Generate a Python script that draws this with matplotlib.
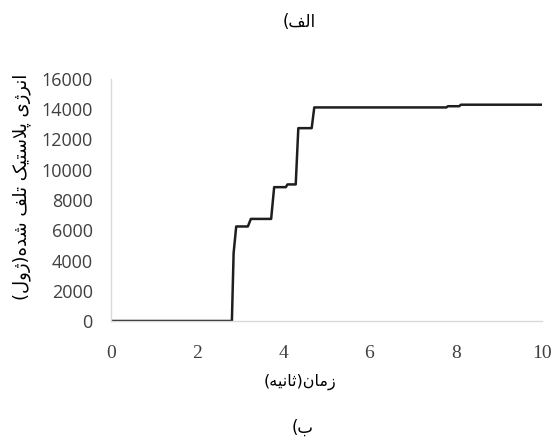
import matplotlib
matplotlib.use("Agg")
import matplotlib.pyplot as plt

# ---- data ----
time_s = [0, 2.81, 2.85, 2.91, 3.18, 3.25, 3.72, 3.79, 4.06, 4.10, 4.29, 4.35,
          4.66, 4.72, 7.78, 7.82, 8.08, 8.12, 10]
energy_j = [0, 0, 4500, 6250, 6250, 6750, 6750, 8850, 8850, 9030, 9030, 12750,
            12750, 14120, 14120, 14200, 14200, 14300, 14300]
x_ticks = [0, 2, 4, 6, 8, 10]
y_ticks = [0, 2000, 4000, 6000, 8000, 10000, 12000, 14000, 16000]

title_top = "الف)"
title_bottom = "ب)"
x_label = "زمان(ثانیه)"
y_label = "انرژی پلاستیک تلف شده(ژول)"

# ---- minimal Persian shaping (presentation forms + visual order) ----
FORMS = {
    'ا': ('\uFE8D', '\uFE8E', None, None),
    'ز': ('\uFEAF', '\uFEB0', None, None),
    'ر': ('\uFEAD', '\uFEAE', None, None),
    'ژ': ('\uFB8A', '\uFB8B', None, None),
    'د': ('\uFEA9', '\uFEAA', None, None),
    'و': ('\uFEED', '\uFEEE', None, None),
    'ل': ('\uFEDD', '\uFEDE', '\uFEDF', '\uFEE0'),
    'ف': ('\uFED1', '\uFED2', '\uFED3', '\uFED4'),
    'ب': ('\uFE8F', '\uFE90', '\uFE91', '\uFE92'),
    'م': ('\uFEE1', '\uFEE2', '\uFEE3', '\uFEE4'),
    'ن': ('\uFEE5', '\uFEE6', '\uFEE7', '\uFEE8'),
    'ث': ('\uFE99', '\uFE9A', '\uFE9B', '\uFE9C'),
    'ی': ('\uFBFC', '\uFBFD', '\uFBFE', '\uFBFF'),
    'ه': ('\uFEE9', '\uFEEA', '\uFEEB', '\uFEEC'),
    'پ': ('\uFB56', '\uFB57', '\uFB58', '\uFB59'),
    'س': ('\uFEB1', '\uFEB2', '\uFEB3', '\uFEB4'),
    'ت': ('\uFE95', '\uFE96', '\uFE97', '\uFE98'),
    'ک': ('\uFB8E', '\uFB8F', '\uFB90', '\uFB91'),
    'ش': ('\uFEB5', '\uFEB6', '\uFEB7', '\uFEB8'),
}


def shape(s):
    items = []
    i = 0
    while i < len(s):
        if s[i] == 'ل' and i + 1 < len(s) and s[i + 1] == 'ا':
            items.append('LA')
            i += 2
        else:
            items.append(s[i])
            i += 1

    def joins_next(c):
        return c in FORMS and FORMS[c][2] is not None

    def joins_prev(c):
        return c in FORMS or c == 'LA'

    res = []
    for k, c in enumerate(items):
        prev = items[k - 1] if k > 0 else None
        nxt = items[k + 1] if k + 1 < len(items) else None
        p = prev is not None and joins_next(prev) and joins_prev(c)
        q = nxt is not None and joins_next(c) and joins_prev(nxt)
        if c == 'LA':
            res.append('\uFEFC' if p else '\uFEFB')
        elif c in FORMS:
            iso, fin, ini, med = FORMS[c]
            if p and q:
                res.append(med)
            elif p:
                res.append(fin)
            elif q:
                res.append(ini)
            else:
                res.append(iso)
        else:
            res.append(c)
    mirror = {'(': ')', ')': '('}
    return ''.join(mirror.get(ch, ch) for ch in reversed(res))


fa_font = ['DejaVu Sans']

fig = plt.figure(figsize=(5.53, 4.41), dpi=100)
W, H = 553, 441
x0, x1, ytop, ybot = 110.7, 542.0, 79.0, 321.0
ax = fig.add_axes([x0 / W, 1 - ybot / H, (x1 - x0) / W, (ybot - ytop) / H])

ax.plot(time_s, energy_j, color='#1e1e1e', lw=1.8, solid_joinstyle='round')

ax.set_xlim(0, 10)
ax.set_ylim(0, 16000)
ax.set_xticks(x_ticks)
ax.set_yticks(y_ticks)
ax.set_xticklabels([str(v) for v in x_ticks], fontfamily='Liberation Serif',
                   fontsize=14, color='#404040')
ax.set_yticklabels([str(v) for v in y_ticks], fontfamily='Open Sans',
                   fontsize=13, color='#404040')
ax.tick_params(axis='both', length=0)
ax.tick_params(axis='x', pad=17)
ax.tick_params(axis='y', pad=13)
for side in ('top', 'right'):
    ax.spines[side].set_visible(False)
for side in ('left', 'bottom'):
    ax.spines[side].set_color('#d9d9d9')
    ax.spines[side].set_linewidth(1.0)

fig.text(299 / W, 1 - 22 / H, shape(title_top), ha='center', va='center',
         fontsize=12, family=fa_font)
fig.text(303 / W, 1 - 428 / H, shape(title_bottom), ha='center', va='center',
         fontsize=12, family=fa_font)
fig.text(300 / W, 1 - 382 / H, shape(x_label), ha='center', va='center',
         fontsize=11.5, family=fa_font)
fig.text(22 / W, 1 - 187 / H, shape(y_label), ha='center', va='center',
         rotation=90, fontsize=13, family=fa_font)

fig.savefig('out.png', dpi=100)
